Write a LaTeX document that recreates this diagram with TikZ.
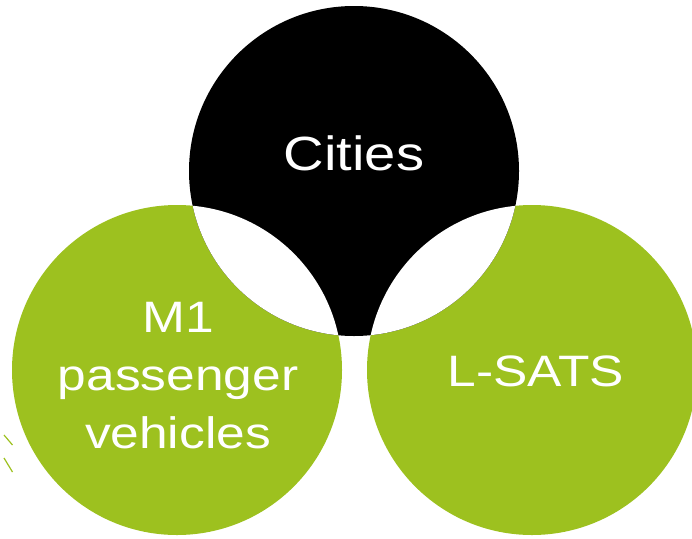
\documentclass[tikz,border=0pt]{standalone}
\usepackage{fontspec}
\newfontfamily\vennfont{Liberation Sans}[FakeStretch=1.17]
\usetikzlibrary{calc}
\definecolor{vgreen}{RGB}{157, 193, 31}
\definecolor{vblack}{HTML}{000000}

\begin{document}
\begin{tikzpicture}[x=1pt, y=-1pt,
	setlabel/.style={text=white, font=\vennfont\fontsize{44}{58}\selectfont, align=center, anchor=base, inner sep=0}]
	\def\r{165}
	\useasboundingbox (0, 0) rectangle (692, 538);
	
	\coordinate (C) at (354, 171);
	\coordinate (M) at (177, 370);
	\coordinate (L) at (532, 370);
	
	\fill[vgreen] (M) circle (\r);
	\fill[vgreen] (L) circle (\r);
	\fill[vblack] (C) circle (\r);
	
	% the two overlaps with the black set stay white
	\foreach \p in {M, L}{
		\begin{scope}
			\clip (C) circle (\r);
			\fill[white] (\p) circle (\r);
		\end{scope}
	}
	
	\node[setlabel, font=\vennfont\fontsize{48}{58}\selectfont] (cities) at (354, 170) {Cities};
	\node[setlabel] (mone) at (178, 448) {M1\\passenger\\vehicles};
	\node[setlabel] (lsats) at (536, 386) {L-SATS};
	
	% stray marks at the left edge
	\draw[vgreen, line width=1.2] (4, 435) -- (12.5, 445);
	\draw[vgreen, line width=1.2] (4, 458) -- (12.5, 472);
\end{tikzpicture}
\end{document}
